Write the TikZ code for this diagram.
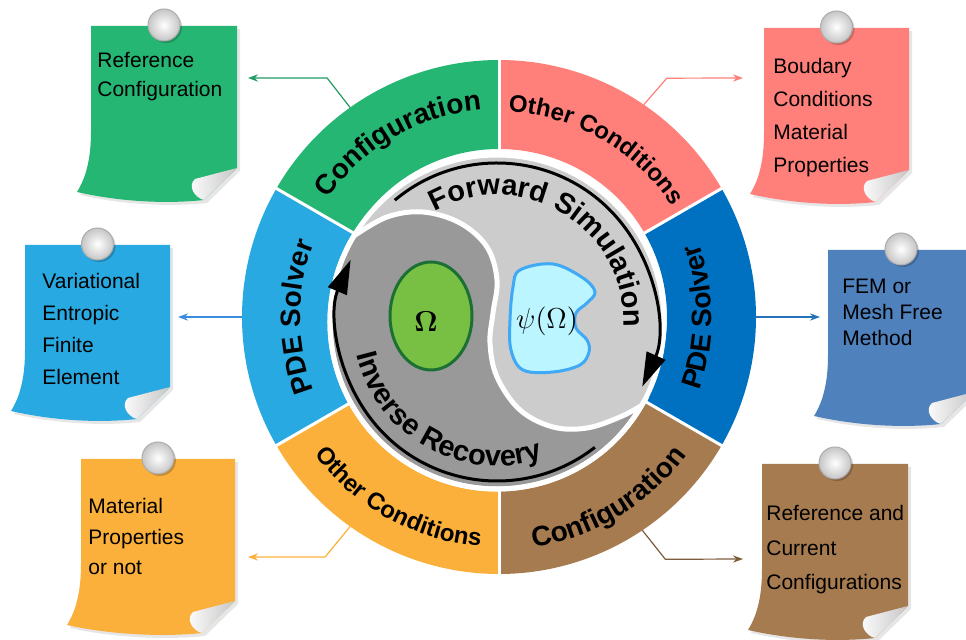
\documentclass[tikz,border=0pt]{standalone}
\usepackage{amsmath}
\usepackage[no-math]{fontspec}
\setmainfont{Liberation Sans}
\usetikzlibrary{arrows.meta,decorations.text,shadows}

\definecolor{cfggreen}{RGB}{38,182,116}
\definecolor{ocpink}{RGB}{255,128,122}
\definecolor{pdeblue}{RGB}{0,112,192}
\definecolor{pdecyan}{RGB}{41,169,225}
\definecolor{ocorange}{RGB}{251,176,59}
\definecolor{cfgbrown}{RGB}{166,123,80}
\definecolor{notesteel}{RGB}{79,129,189}
\definecolor{innerlight}{RGB}{204,204,204}
\definecolor{innerdark}{RGB}{153,153,153}
\definecolor{omegafill}{RGB}{120,192,67}
\definecolor{omegaline}{RGB}{27,112,52}
\definecolor{psifill}{RGB}{187,245,255}
\definecolor{psiline}{RGB}{63,169,245}
\definecolor{linkcyan}{RGB}{58,140,220}
\definecolor{linkblue}{RGB}{36,114,186}

\begin{document}
\begin{tikzpicture}[x=0.5pt, y=0.5pt,
	link/.style={draw=#1, line width=0.6pt, -{Stealth[length=5pt, width=3.6pt]}},
	ringlabel/.style 2 args={decorate, decoration={text along path, text align=center,
		text={|\fontsize{#1}{#1}\selectfont\bfseries|#2}}},
	notetext/.style={anchor=north west, align=left, inner sep=0pt},
	cyclearrow/.style={line width=1.5pt, -{Triangle[length=17pt, width=10pt]}},
]

% frame %{{{2

	\useasboundingbox (0,0) rectangle (966,-640);
	\clip (0,0) rectangle (966,-640);

% centres %{{{2

	\coordinate (O) at (499,-317);
	\coordinate (C) at (497,-322);

% ring sectors %{{{2

	\foreach \a/\c in {90/cfggreen, 30/ocpink, -30/pdeblue, -90/cfgbrown, 210/ocorange, 150/pdecyan} {
		\fill[\c] ([shift={(\a:257)}]O) arc[start angle=\a, delta angle=60, radius=257]
			-- ([shift={({\a+60}:168)}]O) arc[start angle={\a+60}, delta angle=-60, radius=168] -- cycle;
	}

	\foreach \a in {90,30,...,-210} {
		\draw[white, line width=1.5pt] ([shift={(\a:160)}]O) -- ([shift={(\a:260)}]O);
	}

% ring labels %{{{2

	\path[ringlabel={14}{Configuration}] ([shift={(165:208)}]O) arc[start angle=165, end angle=75, radius=208];
	\path[ringlabel={12}{Other Conditions}] ([shift={(105:205)}]O) arc[start angle=105, end angle=15, radius=205];
	\path[ringlabel={14}{PDE Solver}] ([shift={(225:199)}]O) arc[start angle=225, end angle=135, radius=199];
	\path[ringlabel={14}{PDE Solver}] ([shift={(-45:213)}]O) arc[start angle=-45, end angle=45, radius=213];
	\path[ringlabel={12}{Other Conditions}] ([shift={(196:230)}]O) arc[start angle=196, end angle=286, radius=230];
	\path[ringlabel={14}{Configuration}] ([shift={(256:233)}]O) arc[start angle=256, end angle=346, radius=233];

% inner disk %{{{2

	\fill[innerlight] (C) circle (167);

	\filldraw[innerdark, draw=white, line width=2.5pt]
		plot[smooth, tension=0.6] coordinates {(353.9,-236) (387,-217) (423,-212) (460,-223) (487,-247)
			(497,-280) (493,-313) (490,-343) (497,-377) (520,-410) (553,-427) (587,-428) (620,-417) (641.6,-405.5)}
		arc[start angle=-30, end angle=-211, radius=167] -- cycle;

	\draw[white, line width=2.5pt] (C) circle (167);

% domains %{{{2

	\filldraw[fill=omegafill, draw=omegaline, line width=1.5pt] (431,-316) ellipse [x radius=41, y radius=54];
	\node[font=\fontsize{15}{15}\selectfont] (om) at (426,-322) {$\mathbf{\Omega}$};

	\filldraw[fill=psifill, draw=psiline, line width=1.5pt]
		plot[smooth cycle, tension=0.6] coordinates {(520,-270) (553,-264) (583,-278) (595,-292) (587,-303)
			(576,-313) (576,-328) (587,-340) (589,-352) (580,-365) (553,-372) (523,-370) (511,-350) (510,-320) (513,-287)};
	\node[font=\fontsize{15}{15}\selectfont] (psi) at (547,-321) {$\psi(\Omega)$};

% forward and inverse arrows %{{{2

	\draw[cyclearrow] ([shift={(130:159)}]C) arc[start angle=130, end angle=-24, radius=159];
	\draw[cyclearrow] ([shift={(-52:159)}]C) arc[start angle=-52, end angle=-203, radius=159];

	\path[ringlabel={14.5}{Forward Simulation}] ([shift={(133.5:127)}]C) arc[start angle=133.5, end angle=-16.5, radius=127];
	\path[ringlabel={14.5}{Inverse Recovery}] ([shift={(181:144)}]C) arc[start angle=181, end angle=301, radius=144];

% sticky notes %{{{2

	\foreach \x/\y/\w/\c in {91/26/146/cfggreen, 764/28/145/ocpink, 25/245/145/pdecyan,
			828/250/146/notesteel, 81/459/154/ocorange, 762/464/146/cfgbrown} {
		\begin{scope}[shift={(\x,-\y)}]
			\fill[\c, drop shadow={shadow xshift=1.5pt, shadow yshift=-1.5pt, opacity=0.2}]
				(0,0) -- (\w,0) -- (\w,-142) -- ({\w-33},-174)
				.. controls ({\w-70},-178) and (30,-176) .. (-14,-166)
				.. controls (-4,-150) and (0,-130) .. (0,-105) -- cycle;
			\shade[left color=white, right color=gray!45] ({\w-42},-153) -- (\w,-142) -- ({\w-33},-174)
				.. controls ({\w-42},-172) and ({\w-50},-160) .. cycle;
			\fill[black, opacity=0.2] ({\w/2+2},-1) circle (16);
			\shade[inner color=white, outer color=gray!45] ({\w/2},1) circle (16);
			\draw[gray!65, line width=0.5pt] ({\w/2},1) circle (16);
		\end{scope}
	}

% note texts %{{{2

	\node[notetext, font=\fontsize{10.5}{14.5}\selectfont] (T1) at (97,-52) {Reference\\Configuration};
	\node[notetext, font=\fontsize{10.5}{16.5}\selectfont] (T2) at (773,-58) {Boudary\\Conditions\\Material\\Properties};
	\node[notetext, font=\fontsize{10.5}{16}\selectfont] (T3) at (42,-273) {Variational\\Entropic\\Finite\\Element};
	\node[notetext, font=\fontsize{10.5}{13}\selectfont] (T4) at (842,-279) {FEM or\\Mesh Free\\Method};
	\node[notetext, font=\fontsize{10.5}{15.2}\selectfont] (T5) at (88,-498) {Material\\Properties\\or not};
	\node[notetext, font=\fontsize{10.5}{17.2}\selectfont] (T6) at (766,-505) {Reference and\\Current\\Configurations};

% connectors %{{{2

	\coordinate (S1) at ([shift={(125.4:257)}]O);
	\coordinate (S2) at ([shift={(55.7:257)}]O);
	\coordinate (S3) at ([shift={(180:257)}]O);
	\coordinate (S4) at ([shift={(0:257)}]O);
	\coordinate (S5) at ([shift={(234.6:257)}]O);
	\coordinate (S6) at ([shift={(303.9:257)}]O);

	\coordinate (A1) at (248,-78);
	\coordinate (A2) at (743,-78);
	\coordinate (A3) at (178,-317);
	\coordinate (A4) at (820,-317);
	\coordinate (A5) at (248,-557);
	\coordinate (A6) at (743,-559);

	\draw[link=cfggreen!85!black] (S1) -- ++(-23,29.5) -- (A1);
	\draw[link=ocpink] (S2) -- ++(23,26.5) -- (A2);
	\draw[link=linkcyan] (S3) -- (A3);
	\draw[link=linkblue] (S4) -- (A4);
	\draw[link=ocorange] (S5) -- ++(-25,-30.5) -- (A5);
	\draw[link=cfgbrown!75!black] (S6) -- ++(23,-29) -- (A6);

% closing %{{{2

\end{tikzpicture}
\end{document}
